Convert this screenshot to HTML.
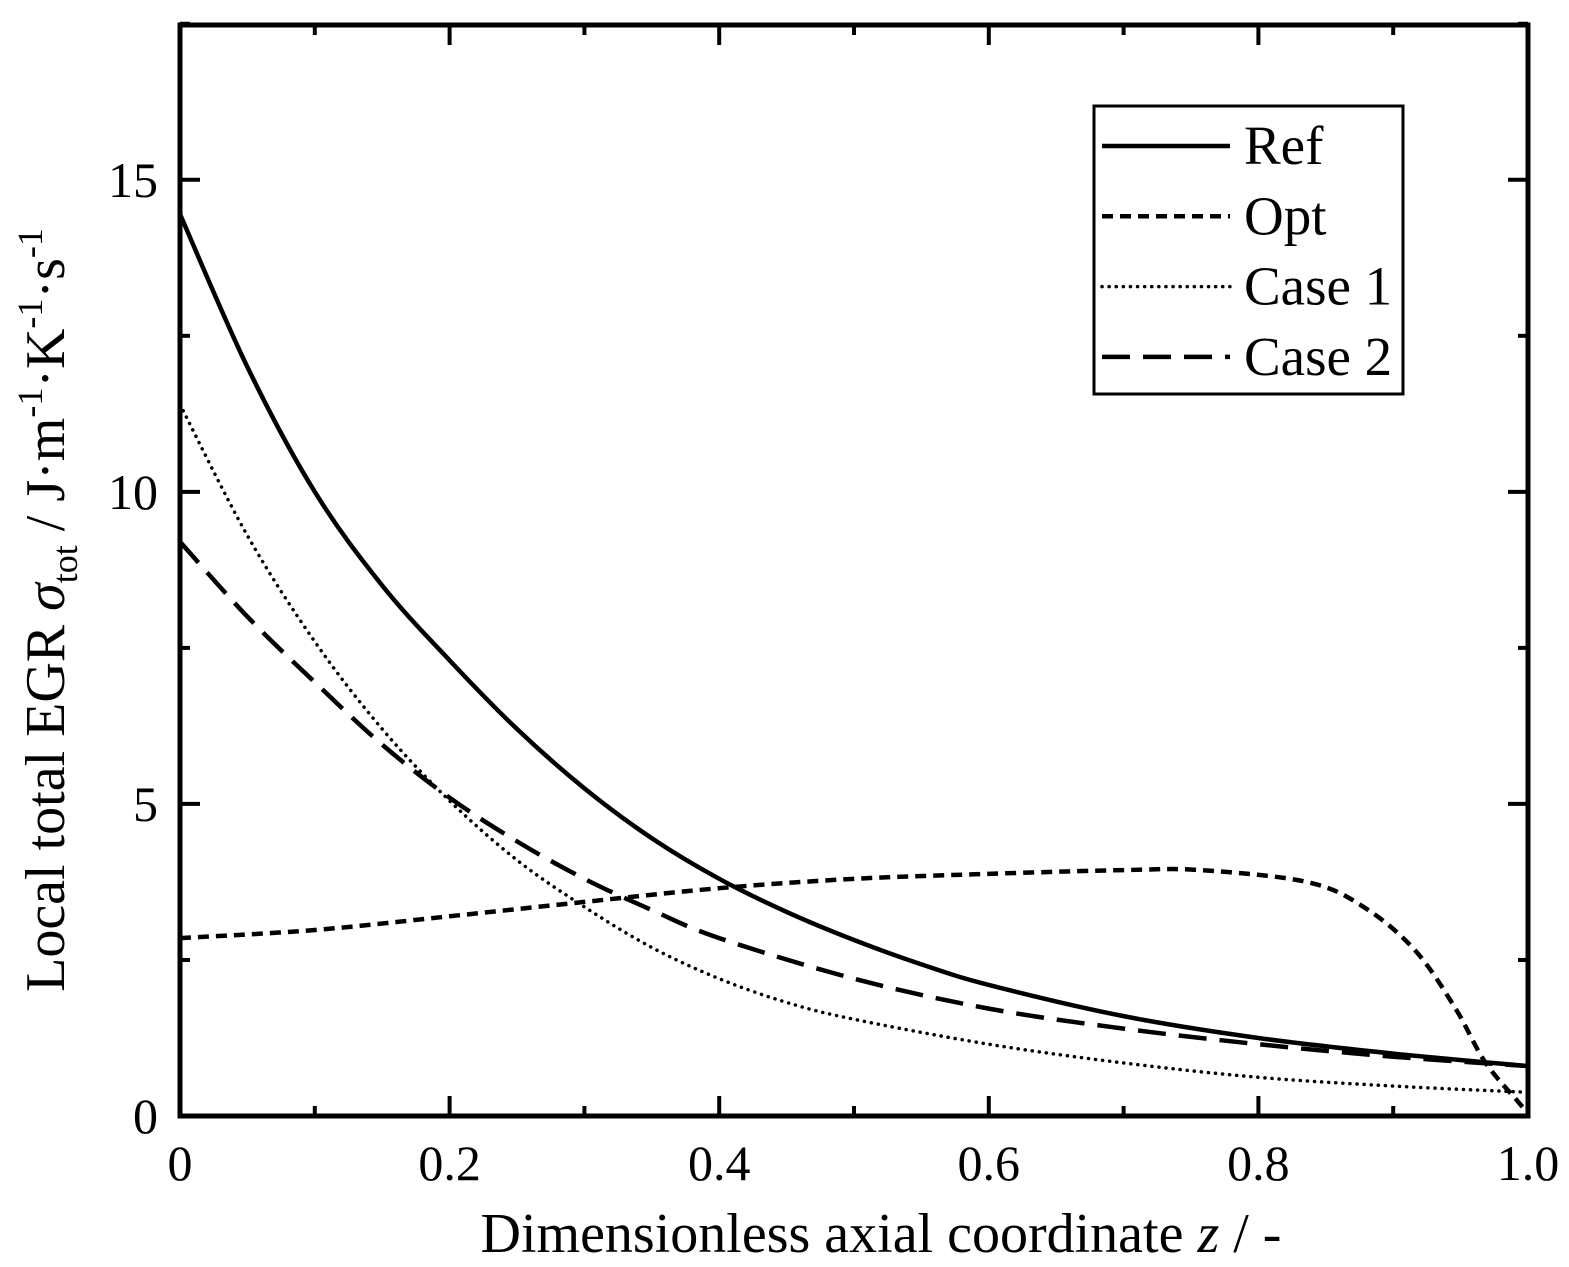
<!DOCTYPE html>
<html><head><meta charset="utf-8"><style>
html,body{margin:0;padding:0;background:#fff}
svg{display:block;font-family:"Liberation Serif",serif}
</style></head><body>
<svg id="chart" width="1569" height="1267" viewBox="0 0 1569 1267">
<g id="marks"></g>
<g id="axes"></g>
<text x="881" y="1252" font-size="56" text-anchor="middle">Dimensionless axial coordinate <tspan font-style="italic">z</tspan> / -</text>
<text transform="translate(64,610) rotate(-90)" font-size="56" text-anchor="middle">Local total EGR <tspan font-style="italic">σ</tspan><tspan font-size="36" dy="13">tot</tspan><tspan dy="-13"> / J·m</tspan><tspan font-size="36" dy="-22">-1</tspan><tspan dy="22">·K</tspan><tspan font-size="36" dy="-22">-1</tspan><tspan dy="22">·s</tspan><tspan font-size="36" dy="-22">-1</tspan></text>
<g>
<rect x="1094" y="106" width="309" height="288" fill="#fff" stroke="#000" stroke-width="3"/>
<g id="legend"></g>
</g>
</svg>
<script>
const refZ=[0,0.05,0.1,0.15,0.2,0.25,0.3,0.35,0.4,0.45,0.5,0.55,0.6,0.7,0.8,0.9,1.0];
const refVals=[14.45,12.0,10.0,8.5,7.3,6.2,5.25,4.45,3.8,3.27,2.82,2.43,2.1,1.6,1.25,1.0,0.8];
const case1Z=[0,0.05,0.1,0.15,0.2,0.25,0.3,0.35,0.4,0.45,0.5,0.6,0.7,0.8,0.9,1.0];
const case1Vals=[11.4,9.3,7.6,6.2,5.05,4.1,3.35,2.7,2.2,1.82,1.55,1.15,0.85,0.62,0.48,0.38];
const case2Z=[0,0.05,0.1,0.15,0.2,0.25,0.3,0.35,0.4,0.5,0.6,0.7,0.8,0.9,1.0];
const case2Vals=[9.2,8.0,6.95,5.95,5.1,4.4,3.8,3.3,2.85,2.2,1.72,1.4,1.15,0.95,0.8];
const optZ=[0,0.1,0.2,0.3,0.4,0.5,0.6,0.7,0.757,0.836,0.878,0.916,0.946,0.968,0.993,1.0];
const optVals=[2.85,2.98,3.2,3.43,3.65,3.8,3.88,3.94,3.94,3.75,3.35,2.66,1.73,0.87,0.22,0.05];
const xTicks=[0,0.2,0.4,0.6,0.8,1.0];
const xTickLabels=["0","0.2","0.4","0.6","0.8","1.0"];
const yTicks=[0,5,10,15];
const yTickLabels=["0","5","10","15"];
const legendLabels=["Ref","Opt","Case 1","Case 2"];

const L=180,R=1528,T=25,B=1116,YMAX=17.48;
const sx=z=>L+z*(R-L);
const sy=v=>B-v/YMAX*(B-T);
const NS="http://www.w3.org/2000/svg";
function mk(tag,attrs,parent){const e=document.createElementNS(NS,tag);for(const k in attrs)e.setAttribute(k,attrs[k]);parent.appendChild(e);return e;}
function pathD(xs,ys){
  const p=xs.map((x,i)=>[sx(x),sy(ys[i])]);
  let d="M"+p[0][0]+","+p[0][1];
  for(let i=0;i<p.length-1;i++){
    const p0=p[Math.max(0,i-1)],p1=p[i],p2=p[i+1],p3=p[Math.min(p.length-1,i+2)];
    const c1=[p1[0]+(p2[0]-p0[0])/6,p1[1]+(p2[1]-p0[1])/6];
    const c2=[p2[0]-(p3[0]-p1[0])/6,p2[1]-(p3[1]-p1[1])/6];
    d+=" C"+c1+" "+c2+" "+p2;
  }
  return d;
}
const styles={
 ref:{w:4.5,dash:""},
 opt:{w:4.5,dash:"11 7"},
 c1:{w:3.5,dash:"0.1 7",cap:"round"},
 c2:{w:4.5,dash:"28 13"}
};
const marks=document.getElementById("marks");
const series=[["ref",refZ,refVals,"ref-line"],["opt",optZ,optVals,"opt-line"],["c1",case1Z,case1Vals,"case1-line"],["c2",case2Z,case2Vals,"case2-line"]];
series.forEach(s=>{
  const st=styles[s[0]];
  const e=mk("path",{d:pathD(s[1],s[2]),fill:"none",stroke:"#000","stroke-width":st.w,"stroke-dasharray":st.dash,"stroke-linecap":st.cap||"butt"},marks);
  
  
});
const axes=document.getElementById("axes");
const frame=mk("rect",{x:L,y:T,width:R-L,height:B-T,fill:"none",stroke:"#000","stroke-width":5},axes);


for(let i=0;i<=10;i++){
  const z=i/10,x=sx(z),len=i%2===0?20:10;
  mk("line",{x1:x,y1:B,x2:x,y2:B-len,stroke:"#000","stroke-width":4},axes);
  mk("line",{x1:x,y1:T,x2:x,y2:T+len,stroke:"#000","stroke-width":4},axes);
}
for(let v=0;v<=17.5;v+=2.5){
  const y=sy(v),len=(v%5===0)?20:10;
  mk("line",{x1:L,y1:y,x2:L+len,y2:y,stroke:"#000","stroke-width":4},axes);
  mk("line",{x1:R,y1:y,x2:R-len,y2:y,stroke:"#000","stroke-width":4},axes);
}
xTicks.forEach((z,i)=>{
  const t=mk("text",{x:sx(z),y:1180,"font-size":50,"text-anchor":"middle"},axes);
  t.textContent=xTickLabels[i];
  
  
});
yTicks.forEach((v,i)=>{
  const t=mk("text",{x:158,y:sy(v)+17,"font-size":50,"text-anchor":"end"},axes);
  t.textContent=yTickLabels[i];
  
  
});
const lg=document.getElementById("legend");
const keys=["ref","opt","c1","c2"];
legendLabels.forEach((lab,i)=>{
  const y=146+i*70.3,st=styles[keys[i]];
  const ln=mk("line",{x1:1102,y1:y,x2:1230,y2:y,stroke:"#000","stroke-width":st.w,"stroke-dasharray":st.dash,"stroke-linecap":st.cap||"butt"},lg);
  
  
  const t=mk("text",{x:1244,y:y+18,"font-size":55},lg);
  t.textContent=lab;
  
  
});
</script>
</body></html>
